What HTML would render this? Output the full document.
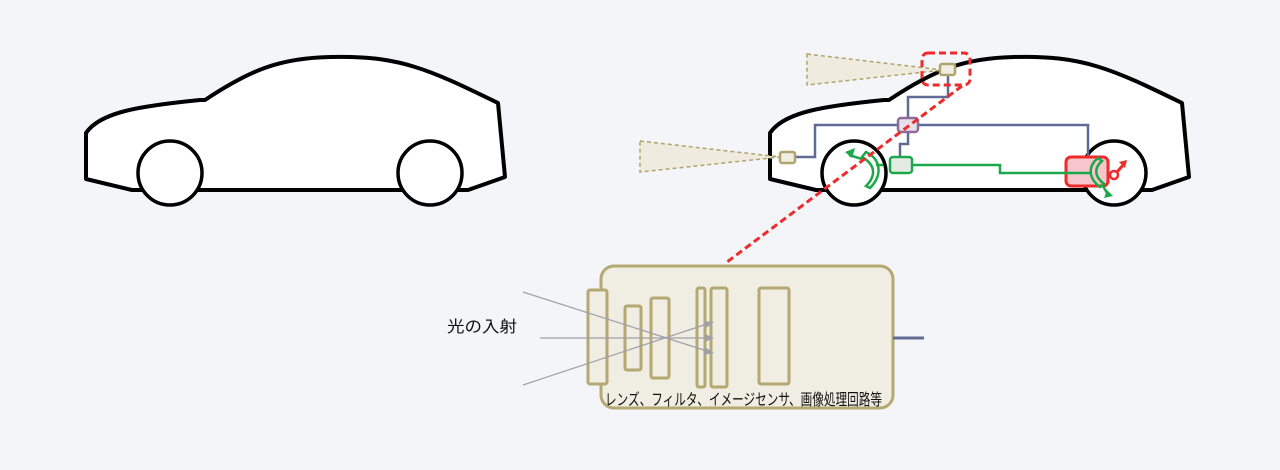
<!DOCTYPE html>
<html><head><meta charset="utf-8"><style>
html,body{margin:0;padding:0;background:#f4f5f9;}
svg{display:block;}
text{font-family:"Liberation Sans","Noto Sans CJK JP",sans-serif;}
</style></head><body>
<svg width="1280" height="470" viewBox="0 0 1280 470" xmlns="http://www.w3.org/2000/svg">
<defs>
<g id="car">
<path d="M86,179 L86,133 C100,112 140,106 200,100 L205,100 C250,70 280,58 330,57 C400,55 430,70 498,103 L505,177 L468,190 L132,190 Z" fill="#fff" stroke="#000" stroke-width="4" stroke-linejoin="round"/>
<circle cx="170" cy="173" r="32" fill="#fff" stroke="#000" stroke-width="3.5"/>
<circle cx="430" cy="173" r="32" fill="#fff" stroke="#000" stroke-width="3.5"/>
</g>
</defs>
<use href="#car"/>
<use href="#car" transform="translate(684,0)"/>
<polygon points="807,54 943,70 807,85" fill="#efecdf" stroke="#b0a46e" stroke-width="1.5" stroke-dasharray="4,3"/>
<polygon points="640,141 780,157 640,172" fill="#efecdf" stroke="#b0a46e" stroke-width="1.5" stroke-dasharray="4,3"/>
<g fill="none" stroke="#5f6b94" stroke-width="2.5">
<path d="M948,75 V97 H908 V118"/>
<path d="M795,157 H815 V125 H898"/>
<path d="M918,125 H1088 V160"/>
<path d="M908,132 V144 H900 V157"/>
</g>
<rect x="1066" y="157" width="42" height="29" rx="5" fill="#f7c6cc" stroke="#ee2a2a" stroke-width="3"/>
<g fill="none" stroke="#1aa84a" stroke-width="2.5">
<path d="M912,165 H1000 V173 H1090"/>
<path d="M883,165 H876"/>
<path d="M862,157 C876,165 876,176 866,186 L870,188 C882,176 882,160 866,152 Z"/>
<path d="M1098,158 C1088,166 1088,178 1100,187 L1104,184 C1094,176 1094,168 1102,161 Z"/>
<path d="M862,159 L849,155"/>
<path d="M1103,186 L1107,193"/>
</g>
<polygon points="845,152 855,148 852,158" fill="#1aa84a"/>
<polygon points="1104,198 1113,196 1107,190" fill="#1aa84a"/>
<rect x="890" y="157" width="22" height="16" rx="3" fill="#e4ebe4" stroke="#1aa84a" stroke-width="2.5"/>
<circle cx="1114" cy="175" r="4" fill="none" stroke="#ee2a2a" stroke-width="2.5"/>
<path d="M1117,172 L1124,164" stroke="#ee2a2a" stroke-width="3"/>
<polygon points="1119,162 1127,160 1125,168" fill="#ee2a2a"/>
<rect x="898" y="118" width="20" height="14" rx="3" fill="#e6e0ea" stroke="#8c6a9a" stroke-width="2.5"/>
<rect x="940" y="64" width="15" height="11" rx="2" fill="#f0eee2" stroke="#b0a46e" stroke-width="2.5"/>
<rect x="780" y="152" width="15" height="11" rx="2" fill="#f0eee2" stroke="#b0a46e" stroke-width="2.5"/>
<rect x="922" y="53" width="48" height="32" rx="6" fill="none" stroke="#ee2a2a" stroke-width="3" stroke-dasharray="7,4"/>
<line x1="962" y1="86" x2="727" y2="262" stroke="#ee2a2a" stroke-width="3" stroke-dasharray="7,4"/>
<rect x="601" y="266" width="292" height="142" rx="13" fill="#f0eee2" stroke="#b5a872" stroke-width="3"/>
<line x1="893" y1="338" x2="924" y2="338" stroke="#5f6b94" stroke-width="3"/>
<g fill="#f0eee2" stroke="#b5a872" stroke-width="3">
<rect x="588" y="290" width="19" height="94" rx="2"/>
<rect x="625" y="306" width="16" height="64" rx="2"/>
<rect x="651" y="298" width="18" height="80" rx="2"/>
<rect x="697" y="288" width="8" height="99" rx="2"/>
<rect x="711" y="288" width="16" height="99" rx="2"/>
<rect x="759" y="288" width="30" height="96" rx="2"/>
</g>
<g stroke="#a0a0a8" stroke-width="1.2">
<line x1="523" y1="292" x2="710" y2="352"/>
<line x1="540" y1="338" x2="710" y2="338"/>
<line x1="523" y1="385" x2="710" y2="323"/>
</g>
<g fill="#a0a0a8">
<polygon points="714,353 705,347 704,355"/>
<polygon points="714,338 705,334 705,342"/>
<polygon points="714,322 704,321 706,328"/>
</g>
<text x="447" y="332" font-size="16" fill="#111" textLength="70" lengthAdjust="spacingAndGlyphs">光の入射</text>
<text x="605" y="405" font-size="16" fill="#111" textLength="277" lengthAdjust="spacingAndGlyphs">レンズ、フィルタ、イメージセンサ、画像処理回路等</text>
</svg>
</body></html>
